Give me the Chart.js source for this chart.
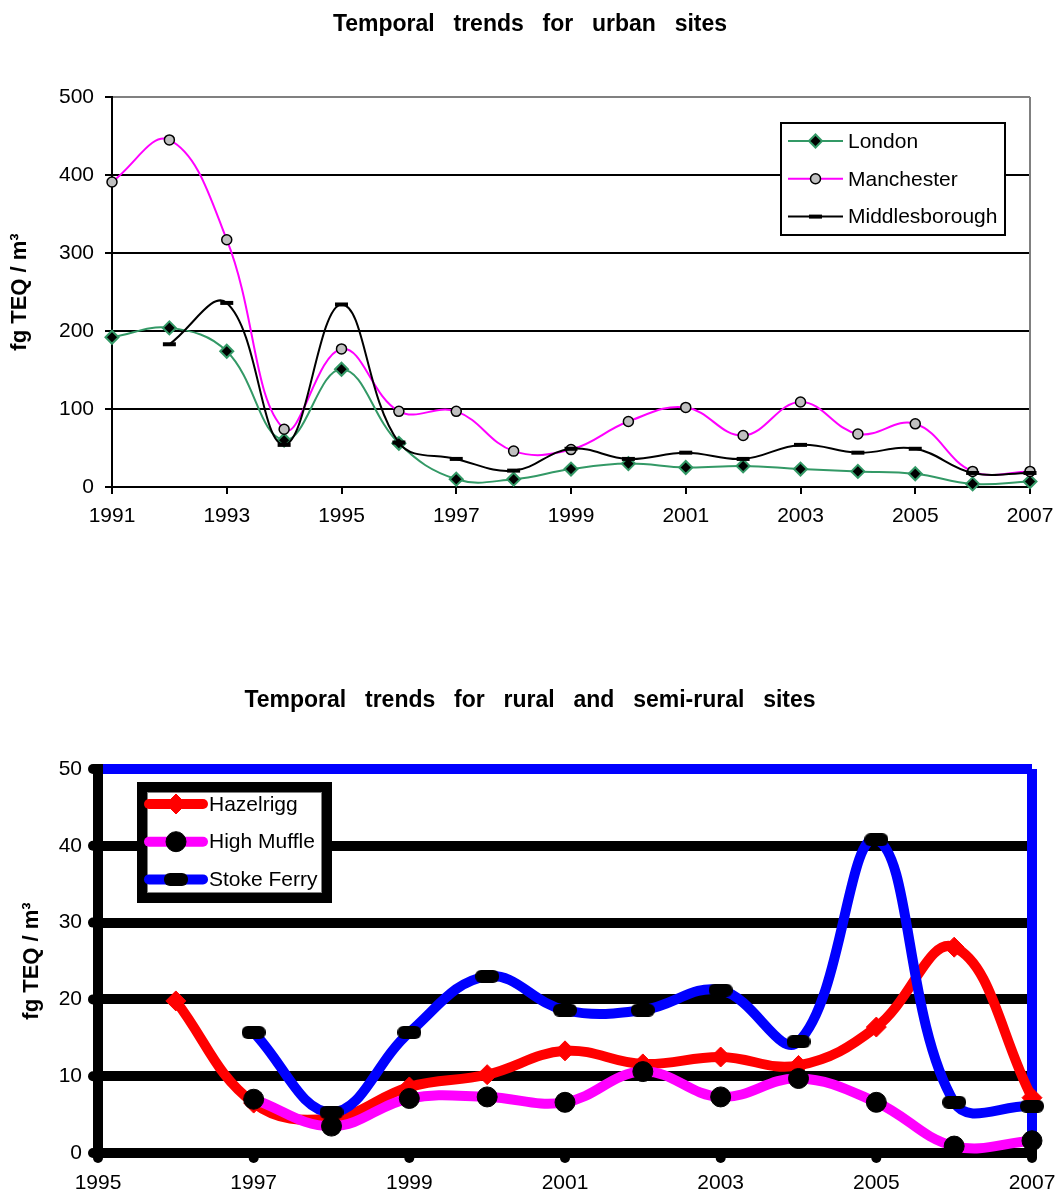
<!DOCTYPE html>
<html>
<head>
<meta charset="utf-8">
<script src="https://cdn.jsdelivr.net/npm/chart.js@4/dist/chart.umd.min.js"></script>
<style>
  html, body { margin: 0; padding: 0; background: #fff; }
  body { width: 1055px; height: 1195px; position: relative; overflow: hidden;
         font-family: "Liberation Sans", Arial, sans-serif; }
  .title { position: absolute; left: 0; width: 1060px; text-align: center; font-weight: bold;
           font-size: 23px; line-height: 24px; word-spacing: 12.4px; color: #000; white-space: nowrap; }
  #t1 { top: 11px; }
  #t2 { top: 687px; }
  #c1 { position: absolute; left: 0; top: 0; }
  #c2 { position: absolute; left: 0; top: 600px; }
</style>
</head>
<body>
<canvas id="c1" width="1070" height="600"></canvas>
<canvas id="c2" width="1080" height="595"></canvas>
<div class="title" id="t1">Temporal trends for urban sites</div>
<div class="title" id="t2">Temporal trends for rural and semi-rural sites</div>
<script>
// Urban sites, annual means (fg TEQ / m³)
const urbanYears = [1991, 1992, 1993, 1994, 1995, 1996, 1997, 1998, 1999, 2000, 2001, 2002, 2003, 2004, 2005, 2006, 2007];
const london         = [192, 204, 174, 60, 151, 56, 10, 10, 23, 30, 25, 27, 23, 20, 17, 4, 7];
const manchester     = [391, 445, 317, 74, 177, 97, 97, 46, 48, 84, 102, 66, 109, 68, 81, 20, 20];
const middlesborough = [null, 183, 236, 54, 234, 57, 36, 21, 49, 36, 44, 36, 54, 44, 49, 18, 18];
const urbanXTicks = [1991, 1993, 1995, 1997, 1999, 2001, 2003, 2005, 2007];
const urbanYTicks = [0, 100, 200, 300, 400, 500];

// Rural and semi-rural sites, annual means (fg TEQ / m³)
const ruralYears = [1995, 1996, 1997, 1998, 1999, 2000, 2001, 2002, 2003, 2004, 2005, 2006, 2007];
const hazelrigg  = [null, 19.8, 6.5, 4.5, 8.6, 10.2, 13.3, 11.6, 12.5, 11.4, 16.4, 26.8, 7.2];
const highMuffle = [null, null, 7.0, 3.5, 7.1, 7.3, 6.6, 10.6, 7.3, 9.7, 6.6, 0.9, 1.6];
const stokeFerry = [null, null, 15.7, 5.3, 15.7, 23.0, 18.6, 18.6, 21.2, 14.5, 40.8, 6.6, 6.1];
const ruralXTicks = [1995, 1997, 1999, 2001, 2003, 2005, 2007];
const ruralYTicks = [0, 10, 20, 30, 40, 50];

const FONT = '"Liberation Sans", Arial, sans-serif';
Chart.defaults.font.family = FONT;
Chart.defaults.font.size = 21;
Chart.defaults.color = '#000';
Chart.defaults.animation = false;

const toPoints = (xs, ys) => xs.map((x, i) => ({ x: x, y: ys[i] })).filter(p => p.y !== null);
const fixedTicks = list => scale => { scale.ticks = list.map(v => ({ value: v })); };

// Rounded black bar used as the Stoke Ferry marker
const barMarker = (() => {
  const c = document.createElement('canvas');
  c.width = 24; c.height = 13;
  const g = c.getContext('2d');
  g.fillStyle = '#000';
  g.beginPath();
  g.roundRect(0, 0, 24, 13, 6);
  g.fill();
  return c;
})();

// Framed legend with a line sample and marker for every series
const boxLegend = {
  id: 'boxLegend',
  afterDatasetsDraw(chart, args, o) {
    if (!o || !o.box) return;
    const ctx = chart.ctx, b = o.box, bw = o.borderWidth;
    ctx.save();
    ctx.fillStyle = '#fff';
    ctx.fillRect(b.x, b.y, b.w, b.h);
    ctx.lineWidth = bw;
    ctx.strokeStyle = '#000';
    ctx.strokeRect(b.x + bw / 2, b.y + bw / 2, b.w - bw, b.h - bw);
    if (o.innerLine) {
      ctx.lineWidth = 1;
      ctx.strokeStyle = o.innerLine;
      ctx.strokeRect(b.x + bw + 0.5, b.y + bw + 0.5, b.w - 2 * bw - 1, b.h - 2 * bw - 1);
    }
    ctx.font = '21px ' + FONT;
    ctx.textBaseline = 'middle';
    ctx.textAlign = 'left';
    chart.data.datasets.forEach((ds, i) => {
      const y = b.y + o.firstRow + i * o.rowGap;
      ctx.strokeStyle = ds.borderColor;
      ctx.lineWidth = ds.borderWidth;
      ctx.lineCap = ds.borderCapStyle || 'butt';
      ctx.beginPath();
      ctx.moveTo(o.lineX0, y);
      ctx.lineTo(o.lineX1, y);
      ctx.stroke();
      ctx.lineCap = 'butt';
      ctx.fillStyle = ds.pointBackgroundColor;
      ctx.strokeStyle = ds.pointBorderColor;
      ctx.lineWidth = ds.pointBorderWidth;
      Chart.helpers.drawPoint(ctx, {
        pointStyle: ds.pointStyle, radius: ds.pointRadius, rotation: 0, borderWidth: ds.pointBorderWidth
      }, (o.lineX0 + o.lineX1) / 2, y);
      ctx.fillStyle = '#000';
      ctx.fillText(ds.label, o.textX, y + 1);
    });
    ctx.restore();
  }
};

// Round tick dots on the outside of both axes
const axisDots = {
  id: 'axisDots',
  afterDraw(chart, args, o) {
    if (!o || !o.radius) return;
    const { ctx, chartArea, scales } = chart;
    ctx.save();
    ctx.fillStyle = '#000';
    scales.x.ticks.forEach(t => {
      ctx.beginPath();
      ctx.arc(scales.x.getPixelForValue(t.value), chartArea.bottom + o.offset, o.radius, 0, Math.PI * 2);
      ctx.fill();
    });
    scales.y.ticks.forEach(t => {
      ctx.beginPath();
      ctx.arc(chartArea.left - o.offset, scales.y.getPixelForValue(t.value), o.radius, 0, Math.PI * 2);
      ctx.fill();
    });
    ctx.restore();
  }
};

const clear = 'rgba(0,0,0,0)';

// Urban chart
new Chart(document.getElementById('c1'), {
  type: 'line',
  data: {
    datasets: [
      { label: 'London', data: toPoints(urbanYears, london), order: 3,
        borderColor: '#339966', borderWidth: 2, tension: 0.4, clip: false,
        pointStyle: 'rectRot', pointRadius: 6.5, pointBackgroundColor: '#000',
        pointBorderColor: '#339966', pointBorderWidth: 2 },
      { label: 'Manchester', data: toPoints(urbanYears, manchester), order: 2,
        borderColor: '#FF00FF', borderWidth: 2, tension: 0.4, clip: false,
        pointStyle: 'circle', pointRadius: 5, pointBackgroundColor: '#C0C0C0',
        pointBorderColor: '#000', pointBorderWidth: 1.5 },
      { label: 'Middlesborough', data: toPoints(urbanYears, middlesborough), order: 1,
        borderColor: '#000', borderWidth: 2, tension: 0.4, clip: false,
        pointStyle: 'line', pointRadius: 6.5, pointBackgroundColor: '#000',
        pointBorderColor: '#000', pointBorderWidth: 4 }
    ]
  },
  options: {
    responsive: false, animation: false, events: [],
    layout: { padding: { top: 97, right: 40, bottom: 63, left: 0 } },
    plugins: {
      legend: { display: false }, title: { display: false }, tooltip: { enabled: false },
      boxLegend: { box: { x: 780, y: 122, w: 226, h: 114 }, borderWidth: 2,
                   firstRow: 19, rowGap: 37.8, lineX0: 788, lineX1: 843, textX: 848 }
    },
    scales: {
      x: {
        type: 'linear', min: 1991, max: 2007,
        afterBuildTicks: fixedTicks(urbanXTicks),
        afterFit: s => { s.height = 50; },
        ticks: { padding: 10, maxRotation: 0, autoSkip: false, callback: v => String(v) },
        grid: { drawOnChartArea: true, lineWidth: 2, tickLength: 7, tickWidth: 2, tickColor: '#000', z: -1,
                color: c => (c.tick && c.tick.value === 2007) ? '#808080' : clear },
        border: { color: '#000', width: 2 }
      },
      y: {
        type: 'linear', min: 0, max: 500,
        afterBuildTicks: fixedTicks(urbanYTicks),
        afterFit: s => { s.width = 112; },
        ticks: { padding: 11, callback: v => String(v) },
        grid: { lineWidth: 2, tickLength: 7, tickWidth: 2, tickColor: '#000', z: -2,
                color: c => (c.tick && c.tick.value === 500) ? '#808080' : '#000' },
        border: { color: '#000', width: 2 },
        title: { display: true, text: 'fg TEQ / m³', font: { size: 22, weight: 'bold' }, padding: { top: 7, bottom: 0 } }
      }
    }
  },
  plugins: [boxLegend]
});

// Rural and semi-rural chart
new Chart(document.getElementById('c2'), {
  type: 'line',
  data: {
    datasets: [
      { label: 'Hazelrigg', data: toPoints(ruralYears, hazelrigg), order: 3,
        borderColor: '#FF0000', borderWidth: 10, borderCapStyle: 'round', borderJoinStyle: 'round',
        tension: 0.4, clip: false,
        pointStyle: 'rectRot', pointRadius: 10, pointBackgroundColor: '#FF0000',
        pointBorderColor: '#FF0000', pointBorderWidth: 1 },
      { label: 'High Muffle', data: toPoints(ruralYears, highMuffle), order: 2,
        borderColor: '#FF00FF', borderWidth: 10, borderCapStyle: 'round', borderJoinStyle: 'round',
        tension: 0.4, clip: false,
        pointStyle: 'circle', pointRadius: 10, pointBackgroundColor: '#000',
        pointBorderColor: '#000', pointBorderWidth: 1 },
      { label: 'Stoke Ferry', data: toPoints(ruralYears, stokeFerry), order: 1,
        borderColor: '#0000FF', borderWidth: 10, borderCapStyle: 'round', borderJoinStyle: 'round',
        tension: 0.4, clip: false,
        pointStyle: barMarker, pointRadius: 12, pointBackgroundColor: '#000',
        pointBorderColor: '#000', pointBorderWidth: 0 }
    ]
  },
  options: {
    responsive: false, animation: false, events: [],
    layout: { padding: { top: 169, right: 48, bottom: 2, left: 0 } },
    plugins: {
      legend: { display: false }, title: { display: false }, tooltip: { enabled: false },
      boxLegend: { box: { x: 137, y: 182, w: 195, h: 121 }, borderWidth: 10, innerLine: '#808080',
                   firstRow: 22, rowGap: 37.7, lineX0: 149, lineX1: 203, textX: 209 },
      axisDots: { radius: 5, offset: 5 }
    },
    scales: {
      x: {
        type: 'linear', min: 1995, max: 2007,
        afterBuildTicks: fixedTicks(ruralXTicks),
        afterFit: s => { s.height = 40; },
        ticks: { padding: 18, maxRotation: 0, autoSkip: false, callback: v => String(v) },
        grid: { drawOnChartArea: true, drawTicks: false, lineWidth: 10, z: -1,
                color: c => (c.tick && c.tick.value === 2007) ? '#0000FF' : clear },
        border: { color: '#000', width: 10 }
      },
      y: {
        type: 'linear', min: 0, max: 50,
        afterBuildTicks: fixedTicks(ruralYTicks),
        afterFit: s => { s.width = 98; },
        ticks: { padding: 16, callback: v => String(v) },
        grid: { drawTicks: false, lineWidth: 10, z: -2,
                color: c => !c.tick ? '#000' : (c.tick.value === 50 ? '#0000FF' : (c.tick.value === 0 ? clear : '#000')) },
        border: { color: '#000', width: 10 },
        title: { display: true, text: 'fg TEQ / m³', font: { size: 22, weight: 'bold' }, padding: { top: 19, bottom: 0 } }
      }
    }
  },
  plugins: [boxLegend, axisDots]
});
</script>
</body>
</html>
